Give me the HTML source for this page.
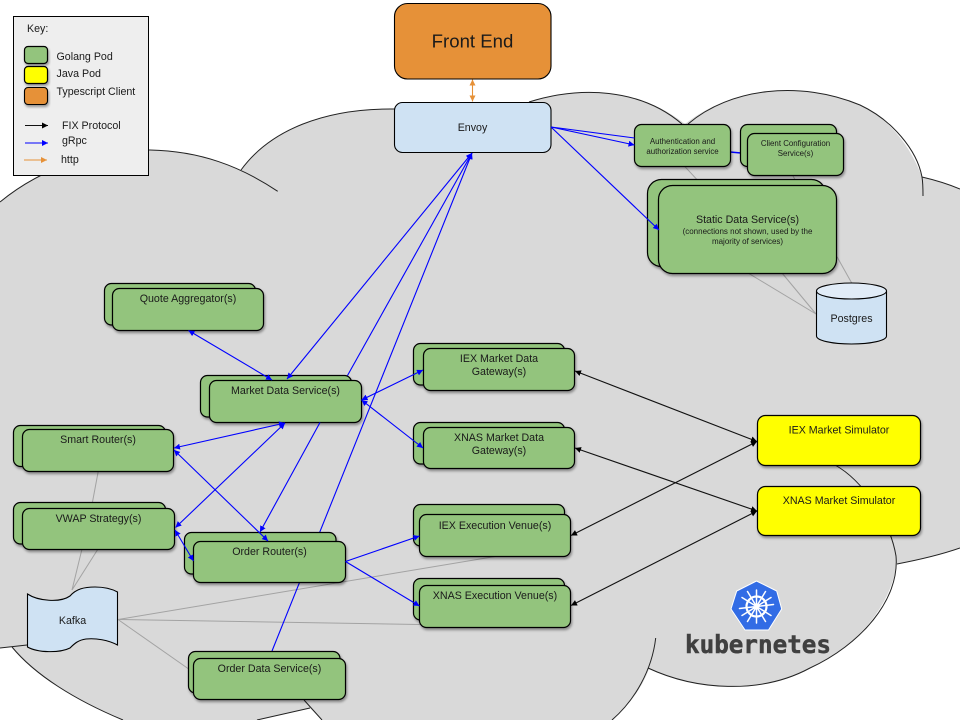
<!DOCTYPE html>
<html><head><meta charset="utf-8"><style>
html,body{margin:0;padding:0;background:#fff}
svg{display:block}
text{font-family:"Liberation Sans",Arial,sans-serif;fill:#1a1a1a;text-anchor:middle;font-size:10.67px}
.l{text-anchor:start}
.c{fill:none;stroke:#222;stroke-width:1}
.b{fill:#93c47d;stroke:#000;stroke-width:1.2;filter:url(#s)}
.y{fill:#ffff00;stroke:#000;stroke-width:1.2;filter:url(#s)}
.n{fill:#cfe2f3;stroke:#000;stroke-width:1.1}
.g{stroke:#a3a3a3;stroke-width:1;fill:none}
.u{stroke:#0000ff;stroke-width:1.1;fill:none}
.k{stroke:#111;stroke-width:1.1;fill:none}
</style></head><body>
<svg width="960" height="720" viewBox="0 0 960 720" xmlns="http://www.w3.org/2000/svg">
<defs>
<filter id="s" x="-10%" y="-10%" width="125%" height="135%"><feDropShadow dx="1" dy="2" stdDeviation="1.4" flood-color="#000" flood-opacity=".38"/></filter>
<marker id="au" markerUnits="userSpaceOnUse" markerWidth="8" markerHeight="7" refX="6" refY="3" orient="auto-start-reverse"><path d="M0,0L6,3L0,6z" fill="#0000ff"/></marker>
<marker id="ak" markerUnits="userSpaceOnUse" markerWidth="8" markerHeight="7" refX="6" refY="3" orient="auto-start-reverse"><path d="M0,0L6,3L0,6z" fill="#000"/></marker>
<marker id="ao" markerUnits="userSpaceOnUse" markerWidth="8" markerHeight="7" refX="6" refY="3" orient="auto-start-reverse"><path d="M0,0L6,3L0,6z" fill="#e69138"/></marker>
</defs>

<!-- cloud fill -->
<path fill="#d9d9d9" d="M0,202C45,165 100,150 150,150C182,151 215,158 241,170C270,130 325,108 395,109L529,102C580,86 640,88 685,124C730,88 800,80 860,105C892,120 912,150 922,177C935,180 948,184 960,189L960,548C940,555 918,560 897,564C890,605 860,645 810,668C760,695 695,690 649,669C641,690 628,706 612,720L322,720L310,708L257,720L123,720C75,700 35,675 12,647L0,648Z"/>
<g class="c">
<path d="M0,202C45,165 100,150 150,150C200,151 240,166 277.7,191.3"/>
<path d="M241,170C270,130 325,108 395,109"/>
<path d="M529,102C580,86 640,88 682,124"/>
<path d="M688,124C730,88 800,80 860,105C892,120 917,150 922,177C923,183 923,190 923,196"/>
<path d="M922,177C935,180 948,184 960,189"/>
<path d="M960,548C940,555 918,560 897,564"/>
<path d="M835,465C862,480 890,520 896,556C900,600 860,645 810,668C760,695 695,690 648,668"/>
<path d="M655.7,638C652,670 635,700 612,720"/>
<path d="M304,700L322,720"/>
<path d="M310,708L257,720"/>
<path d="M12,647C35,675 75,700 123,720"/>
<path d="M0,648L27,645"/>
</g>

<!-- gray connectors -->
<g class="g">
<path d="M98.3,471L92.3,503"/><path d="M82,549L72,590"/><path d="M98,549L72,590"/>
<path d="M118,619.5L495,556.5"/><path d="M118,619.5L495,625.7"/><path d="M118,619.5L193,672"/>
<path d="M685,166.7L702,185"/><path d="M793,176L798,185"/>
<path d="M748,273L816,314"/><path d="M782,273L816,314"/><path d="M837,256.7L851.7,283"/>
</g>

<!-- blue lines behind boxes -->
<g class="u">
<path d="M272,651L472,153" marker-end="url(#au)"/>
<path d="M730,152L741,153" stroke-width="1.4"/>
</g>

<!-- Front end / envoy -->
<rect x="394.5" y="3.5" width="156.5" height="75.5" rx="13" fill="#e69138" stroke="#000" stroke-width="1.1"/>
<text x="472.5" y="47.5" style="font-size:18.6px">Front End</text>
<rect class="n" x="394.5" y="102.5" width="156.5" height="50" rx="8"/>
<text x="472.5" y="131">Envoy</text>

<!-- auth / client / static -->
<rect class="b" x="634.5" y="124.5" width="96" height="42" rx="7"/>
<text x="682.5" y="144" style="font-size:7.9px">Authentication and</text>
<text x="682.5" y="154" style="font-size:7.9px">authorization service</text>
<rect class="b" x="740.5" y="124.5" width="96" height="42" rx="7"/>
<rect class="b" x="747.5" y="133.5" width="96" height="42" rx="7"/>
<text x="795.5" y="146" style="font-size:7.9px">Client Configuration</text>
<text x="795.5" y="156" style="font-size:7.9px">Service(s)</text>
<rect class="b" x="647.5" y="179.5" width="178" height="87" rx="14"/>
<rect class="b" x="658.5" y="185.5" width="178" height="88" rx="14"/>
<text x="747.5" y="223" style="font-size:10.67px">Static Data Service(s)</text>
<text x="747.5" y="234" style="font-size:8px">(connections not shown, used by the</text>
<text x="747.5" y="244" style="font-size:8px">majority of services)</text>

<!-- postgres -->
<path class="n" d="M816.5,291V336C816.5,340.5 832,344 851.5,344C871,344 886.5,340.5 886.5,336V291"/>
<ellipse cx="851.5" cy="291" rx="35" ry="8" fill="#e1ecf7" stroke="#000" stroke-width="1.1"/>
<text x="851.5" y="322" style="font-size:10.67px">Postgres</text>

<!-- pods -->
<rect class="b" x="104.5" y="283.5" width="151" height="41.5" rx="7"/>
<rect class="b" x="112.5" y="288.5" width="151" height="42" rx="7"/>
<text x="188" y="302">Quote Aggregator(s)</text>

<rect class="b" x="200.5" y="375.5" width="151" height="41.5" rx="7"/>
<rect class="b" x="209.5" y="380.5" width="152" height="42" rx="7"/>
<text x="285.5" y="394">Market Data Service(s)</text>

<rect class="b" x="13.5" y="425.5" width="152" height="41" rx="7"/>
<rect class="b" x="22.5" y="429.5" width="151" height="42" rx="7"/>
<text x="98" y="443">Smart Router(s)</text>

<rect class="b" x="13.5" y="502.5" width="152" height="41.5" rx="7"/>
<rect class="b" x="22.5" y="508.5" width="152" height="41" rx="7"/>
<text x="98.5" y="522">VWAP Strategy(s)</text>

<rect class="b" x="184.5" y="532.5" width="151.5" height="41.5" rx="7"/>
<rect class="b" x="193.5" y="541.5" width="152" height="41" rx="7"/>
<text x="269.5" y="555">Order Router(s)</text>

<rect class="b" x="188.5" y="651.5" width="151.5" height="41.5" rx="7"/>
<rect class="b" x="193.5" y="658.5" width="152" height="41" rx="7"/>
<text x="269.5" y="672">Order Data Service(s)</text>

<rect class="b" x="413.5" y="343.5" width="151" height="41.5" rx="7"/>
<rect class="b" x="423.5" y="348.5" width="151" height="42" rx="7"/>
<text x="499" y="362">IEX Market Data</text>
<text x="499" y="375">Gateway(s)</text>

<rect class="b" x="413.5" y="422.5" width="151" height="41.5" rx="7"/>
<rect class="b" x="423.5" y="427.5" width="151" height="41" rx="7"/>
<text x="499" y="441">XNAS Market Data</text>
<text x="499" y="454">Gateway(s)</text>

<rect class="b" x="413.5" y="504.5" width="151" height="41.5" rx="7"/>
<rect class="b" x="419.5" y="514.5" width="151" height="42" rx="7"/>
<text x="495" y="529">IEX Execution Venue(s)</text>

<rect class="b" x="413.5" y="578.5" width="151" height="41.5" rx="7"/>
<rect class="b" x="419.5" y="585.5" width="151" height="42" rx="7"/>
<text x="495" y="599">XNAS Execution Venue(s)</text>

<rect class="y" x="757.5" y="415.5" width="163" height="50" rx="8"/>
<text x="839" y="433.5">IEX Market Simulator</text>
<rect class="y" x="757.5" y="486.5" width="163" height="49" rx="8"/>
<text x="839" y="504">XNAS Market Simulator</text>

<!-- kafka -->
<path class="n" d="M27.5,594C38,601 60,603 70,596C76,589 84,587 95,587C104,587 112,589 117.5,592V645C108,640 96,638 86,639C78,640 74,644 70,648C60,653 38,653 27.5,647Z"/>
<text x="72.5" y="624">Kafka</text>

<!-- blue connectors -->
<g class="u">
<path d="M551,127L634.5,138"/>
<path d="M551,127L634.5,145" marker-end="url(#au)"/>
<path d="M551,127L659,230" marker-end="url(#au)"/>
<path d="M347.5,375.5L472,153" marker-end="url(#au)"/>
<path d="M320,422.5L260,532" marker-end="url(#au)"/>
<path d="M287,379L472,153" marker-start="url(#au)" marker-end="url(#au)"/>
<path d="M188.5,330.5L272,380" marker-start="url(#au)" marker-end="url(#au)"/>
<path d="M285,423L174,448" marker-start="url(#au)" marker-end="url(#au)"/>
<path d="M285,423L175.5,527.5" marker-start="url(#au)" marker-end="url(#au)"/>
<path d="M174,450L268,541" marker-start="url(#au)" marker-end="url(#au)"/>
<path d="M175,530L193.5,561" marker-start="url(#au)" marker-end="url(#au)"/>
<path d="M361.5,400L423,370" marker-start="url(#au)" marker-end="url(#au)"/>
<path d="M361.5,400L423,448" marker-start="url(#au)" marker-end="url(#au)"/>
<path d="M345.5,561.5L419.5,536" marker-end="url(#au)"/>
<path d="M345.5,561.5L419.5,606" marker-end="url(#au)"/>
</g>

<!-- black connectors -->
<g class="k">
<path d="M575,371L757,441.5" marker-start="url(#ak)" marker-end="url(#ak)"/>
<path d="M575,448L757,511" marker-start="url(#ak)" marker-end="url(#ak)"/>
<path d="M571,535.5L757,441.5" marker-start="url(#ak)" marker-end="url(#ak)"/>
<path d="M571,605.5L757,511" marker-start="url(#ak)" marker-end="url(#ak)"/>
</g>

<!-- orange -->
<path d="M472.5,79.5L472.5,101.5" stroke="#e69138" stroke-width="1.1" fill="none" marker-start="url(#ao)" marker-end="url(#ao)"/>

<!-- key -->
<rect x="13.5" y="16.5" width="135" height="159" fill="#eee" stroke="#000" stroke-width="1"/>
<text class="l" x="27" y="32">Key:</text>
<rect class="b" x="24.5" y="46.5" width="23" height="17" rx="3.5"/>
<rect class="y" x="24.5" y="66.5" width="23" height="17" rx="3.5"/>
<rect x="24.5" y="87.5" width="23" height="17" rx="3.5" fill="#e69138" stroke="#000" stroke-width="1.1" filter="url(#s)"/>
<text class="l" x="56.5" y="60">Golang Pod</text>
<text class="l" x="56.5" y="77">Java Pod</text>
<text class="l" x="56.5" y="95">Typescript Client</text>
<text class="l" x="62" y="129">FIX Protocol</text>
<text class="l" x="62" y="144">gRpc</text>
<text class="l" x="61" y="163">http</text>
<path class="k" d="M25,125.5H48" marker-end="url(#ak)"/>
<path class="u" d="M25,143H48" marker-end="url(#au)"/>
<path d="M24,160H47" stroke="#e69138" stroke-width="1.1" fill="none" marker-end="url(#ao)"/>

<!-- kubernetes logo -->
<path d="M756.5,581L776.7,591L781.7,609L768.5,630H745L731,609L736.7,591Z" fill="#326ce5" stroke="#fff" stroke-width="1" stroke-linejoin="round"/>
<g stroke="#fff" fill="none" stroke-linecap="round">
<circle cx="756.5" cy="606.5" r="10" stroke-width="2.2"/>
<circle cx="756.5" cy="606.5" r="1.6" fill="#fff" stroke="none"/>
<path stroke-width="1.5" d="M756.5,590V623M742,597.5L771,615.5M771,597.5L742,615.5M739.5,608.5L773.5,604.5M747.5,621.5L765.5,591.5M765.5,621.5L747.5,591.5"/>
</g>
<text x="758" y="653" textLength="146" lengthAdjust="spacingAndGlyphs" style="font-family:'DejaVu Sans Mono',monospace;font-weight:bold;font-size:25px;fill:#404040;stroke:#404040;stroke-width:.5">kubernetes</text>
</svg>
</body></html>
